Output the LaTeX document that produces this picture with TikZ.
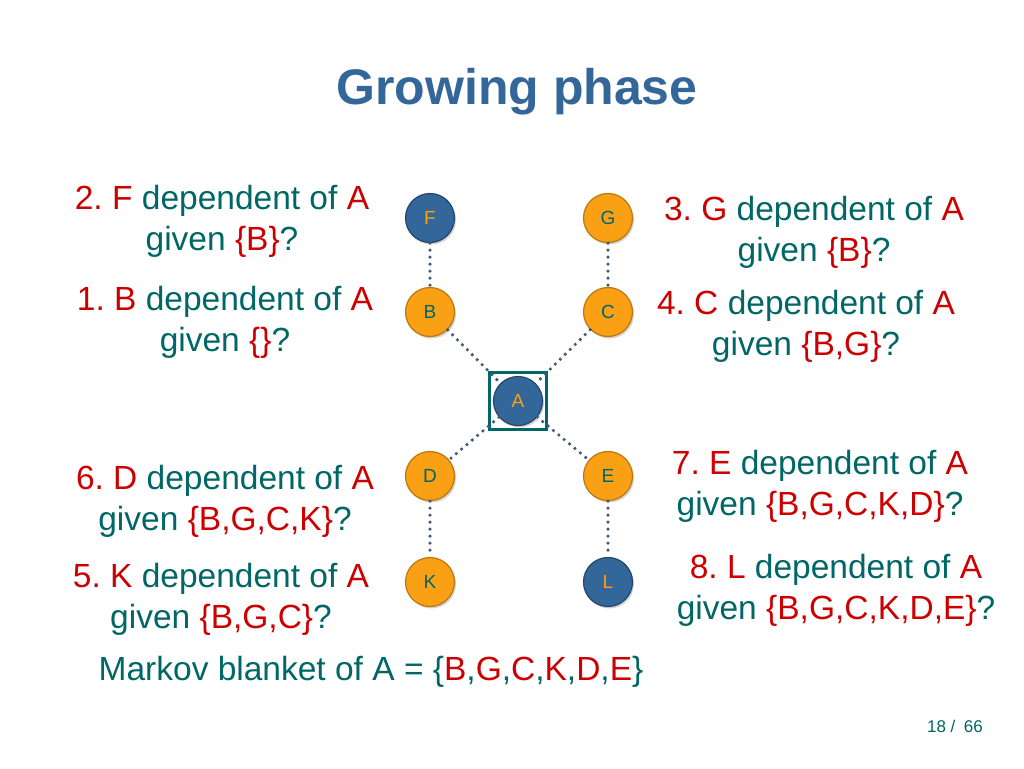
\documentclass[tikz,border=0pt]{standalone}
\usepackage{fontspec}
\setmainfont{Liberation Sans}
\usetikzlibrary{shadows}

\definecolor{titleblue}{RGB}{51,102,153}
\definecolor{tealtext}{RGB}{0,102,102}
\definecolor{redtext}{RGB}{204,0,0}
\definecolor{nodeorange}{RGB}{250,160,20}
\definecolor{nodeblue}{RGB}{51,102,153}
\definecolor{linkblue}{RGB}{65,90,120}
\newcommand{\rd}[1]{\textcolor{redtext}{#1}}
\frenchspacing

\begin{document}
\begin{tikzpicture}[
    x=1pt, y=-1pt,
    var/.style    = {circle, minimum size=49pt, inner sep=0pt, line width=1.2pt,
                     font=\fontsize{19}{19}\selectfont,
                     drop shadow={shadow xshift=1.5pt, shadow yshift=-2pt, opacity=0.35}},
    inset/.style  = {var, fill=nodeorange, draw=nodeorange!75!black, text=tealtext},
    outset/.style = {var, fill=nodeblue, draw=nodeblue!70!black, text=nodeorange},
    link/.style   = {draw=linkblue, line width=3.6pt, line cap=round,
                     dash pattern=on 0pt off 7pt},
    qtxt/.style   = {align=center, text=tealtext, font=\fontsize{33.5}{41}\selectfont},
  ]

  \useasboundingbox (0,0) rectangle (1024,768);

  % ---------- parameters ----------
  \def\xl{430}   % left column of variables
  \def\xr{608}   % right column of variables

  % ---------- title ----------
  \node[anchor=base, text=titleblue, font=\fontsize{50}{50}\selectfont\bfseries]
        (title) at (517,104) {Growing phase};

  % ---------- variables ----------
  \node[outset] (F) at (\xl,218) {F};
  \node[inset]  (G) at (\xr,218) {G};
  \node[inset]  (B) at (\xl,312) {B};
  \node[inset]  (C) at (\xr,312) {C};
  \node[outset] (A) at (518,401) {A};
  \node[inset]  (D) at (\xl,476) {D};
  \node[inset]  (E) at (\xr,476) {E};
  \node[inset]  (K) at (\xl,582) {K};
  \node[outset] (L) at (\xr,582) {L};

  % ---------- box round the target ----------
  \node[draw=tealtext, line width=2.8pt, minimum size=57pt, inner sep=0pt]
        (Abox) at (A) {};

  % ---------- dotted links ----------
  \draw[link] (F) -- (B);
  \draw[link] (G) -- (C);
  \draw[link] (B) -- (A);
  \draw[link] (C) -- (A);
  \draw[link] (A) -- (D);
  \draw[link] (A) -- (E);
  \draw[link] (D) -- (K);
  \draw[link] (E) -- (L);

  % ---------- questions, left ----------
  \node[qtxt] (q2) at (222,221) {\rd{2. F} dependent of \rd{A}\\ given \rd{\{B\}}?};
  \node[qtxt] (q1) at (225,322) {\rd{1. B} dependent of \rd{A}\\ given \rd{\{\}}?};
  \node[qtxt] (q6) at (225,501) {\rd{6. D} dependent of \rd{A}\\ given \rd{\{B,G,C,K\}}?};
  \node[qtxt] (q5) at (221,599) {\rd{5. K} dependent of \rd{A}\\ given \rd{\{B,G,C\}}?};

  % ---------- questions, right ----------
  \node[qtxt] (q3) at (814,232) {\rd{3. G} dependent of \rd{A}\\ given \rd{\{B\}}?};
  \node[qtxt] (q4) at (806,326) {\rd{4. C} dependent of \rd{A}\\ given \rd{\{B,G\}}?};
  \node[qtxt] (q7) at (820,486) {\rd{7. E} dependent of \rd{A}\\ given \rd{\{B,G,C,K,D\}}?};
  \node[qtxt] (q8) at (836,590) {\rd{8. L} dependent of \rd{A}\\ given \rd{\{B,G,C,K,D,E\}}?};

  % ---------- result ----------
  \node[qtxt, anchor=base] (mb) at (371,680)
        {Markov blanket of A = \{\rd{B},\rd{G},\rd{C},\rd{K},\rd{D},\rd{E}\}};

  % ---------- page number ----------
  \node[anchor=base, text=tealtext, font=\fontsize{17}{17}\selectfont]
        (page) at (955,732) {18 /\enspace 66};

\end{tikzpicture}
\end{document}
